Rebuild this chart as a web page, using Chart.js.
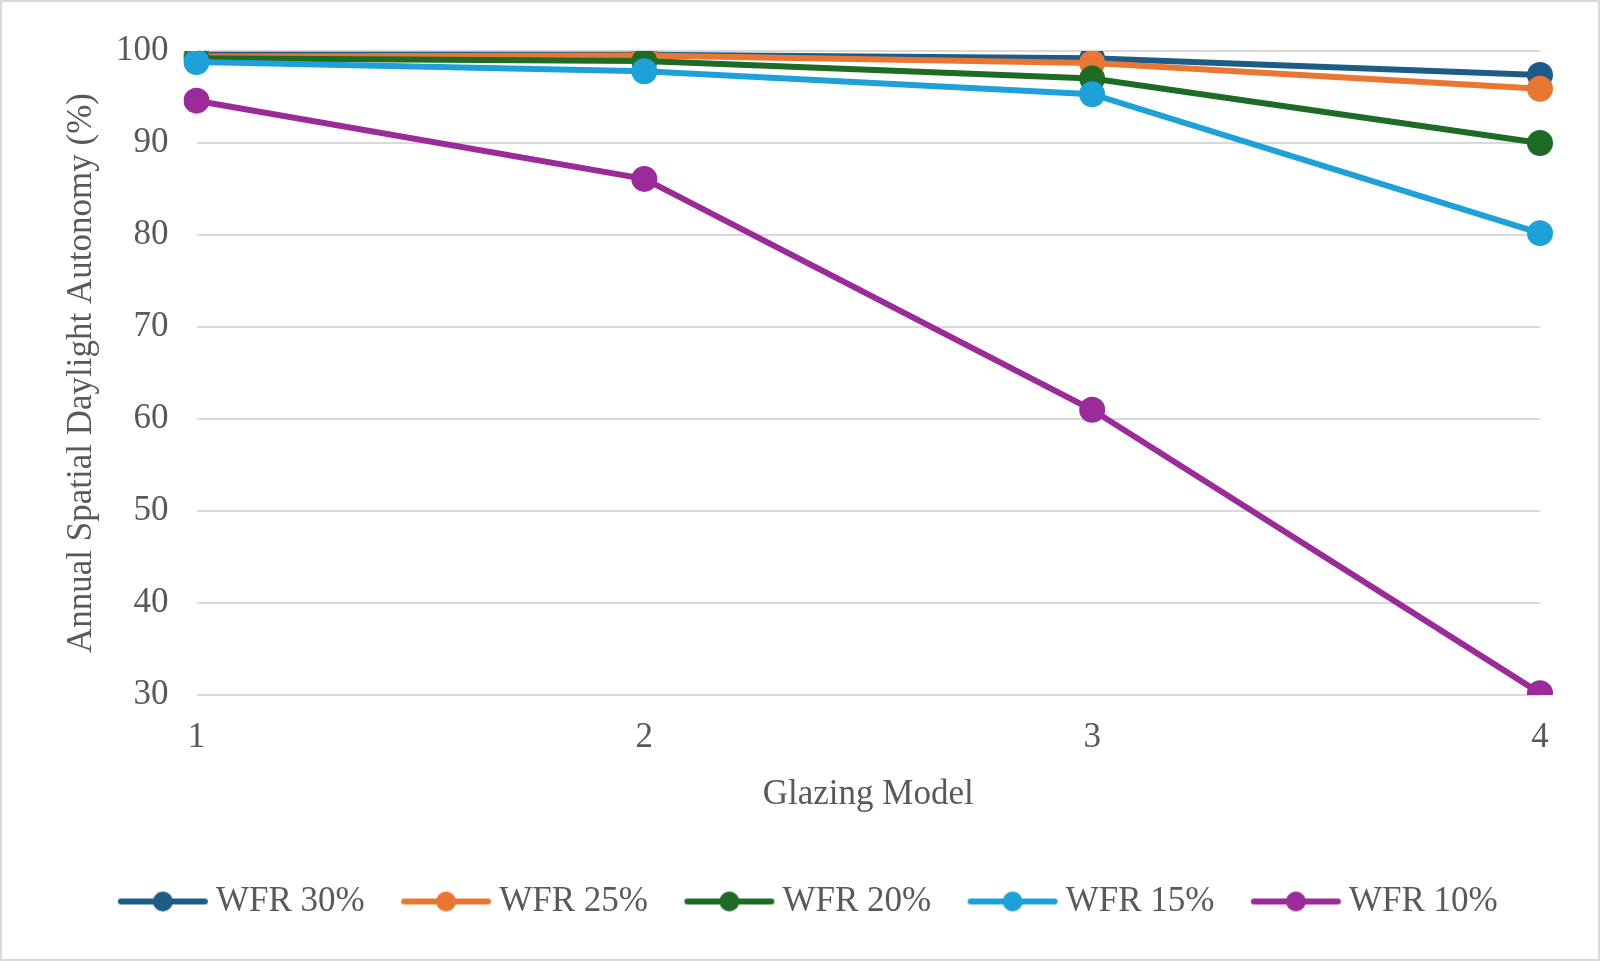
<!DOCTYPE html>
<html>
<head>
<meta charset="utf-8">
<script src="https://cdn.jsdelivr.net/npm/chart.js@4"></script>
<style>
  html, body { margin: 0; padding: 0; background: #fff; }
  .wrap { width: 1596px; height: 957px; border: 2px solid #d9d9d9; position: relative; }
</style>
</head>
<body>
<div class="wrap"><canvas id="sdaChart"></canvas></div>
<script>
// categories (glazing models)
const models = ['1', '2', '3', '4'];

// sDA values
const wfr30 = [99.6, 99.6, 99.2, 97.4];
const wfr25 = [99.4, 99.5, 98.7, 95.9];
const wfr20 = [99.2, 98.9, 97.0, 90.0];
const wfr15 = [98.8, 97.8, 95.3, 80.2];
const wfr10 = [94.6, 86.1, 61.0, 30.2];

const seriesNames = ['WFR 30%', 'WFR 25%', 'WFR 20%', 'WFR 15%', 'WFR 10%'];
const seriesColors = ['#1c5c86', '#ea7634', '#1d6b25', '#1ea0d8', '#9a2b98'];
const seriesData = [wfr30, wfr25, wfr20, wfr15, wfr10];

const yTicks = [30, 40, 50, 60, 70, 80, 90, 100];

const grey = '#595959';
const serif = "'Liberation Serif', 'Times New Roman', serif";

// legend marker: line with a dot in the middle
function legendMarker(color) {
    const c = document.createElement('canvas');
    c.width = 92; c.height = 26;
    const g = c.getContext('2d');
    g.strokeStyle = color;
    g.lineWidth = 6;
    g.lineCap = 'round';
    g.beginPath(); g.moveTo(4, 13); g.lineTo(88, 13); g.stroke();
    g.fillStyle = color;
    g.beginPath(); g.arc(46, 13, 10, 0, Math.PI * 2); g.fill();
    return c;
}
const markers = seriesColors.map(legendMarker);

// reversed so WFR 10% ends up painted on top, like the original
const datasets = seriesNames.map((name, i) => ({
    label: name,
    data: seriesData[i],
    borderColor: seriesColors[i],
    backgroundColor: seriesColors[i],
    borderWidth: 6,
    pointRadius: 13,
    pointHoverRadius: 13,
    pointBorderWidth: 0,
    tension: 0
})).reverse();

// the original legend sits a little right of centre
const nudgeLegend = {
    id: 'nudgeLegend',
    afterLayout(chart) {
        chart.legend.left += 14;
        chart.legend.right += 14;
    }
};

new Chart(document.getElementById('sdaChart'), {
    type: 'line',
    data: { labels: models, datasets: datasets },
    plugins: [nudgeLegend],
    options: {
        responsive: true,
        maintainAspectRatio: false,
        animation: false,
        layout: { padding: { top: 30, right: 58, left: 55, bottom: 30 } },
        plugins: {
            tooltip: { enabled: false },
            legend: {
                position: 'bottom',
                labels: {
                    color: grey,
                    font: { family: serif, size: 35 },
                    usePointStyle: true,
                    pointStyleWidth: 71,
                    padding: 46,
                    generateLabels: chart => seriesNames.map((name, i) => ({
                        text: name,
                        fontColor: grey,
                        pointStyle: markers[i],
                        lineWidth: 0,
                        strokeStyle: 'transparent',
                        fillStyle: 'transparent',
                        datasetIndex: seriesNames.length - 1 - i
                    }))
                }
            }
        },
        scales: {
            x: {
                offset: false,
                grid: { display: false },
                border: { display: false },
                ticks: { color: grey, font: { family: serif, size: 35 }, padding: 14 },
                title: { display: true, text: 'Glazing Model', color: grey, font: { family: serif, size: 35 }, padding: { top: 1, bottom: 22 } }
            },
            y: {
                min: 30,
                max: 100,
                afterBuildTicks: axis => { axis.ticks = yTicks.map(v => ({ value: v })); },
                grid: { color: '#d9d9d9', lineWidth: 2, drawTicks: false },
                border: { display: false },
                ticks: { color: grey, font: { family: serif, size: 35 }, padding: 28 },
                title: { display: true, text: 'Annual Spatial Daylight Autonomy (%)', color: grey, font: { family: serif, size: 35 }, padding: { top: 4, bottom: -15 } }
            }
        }
    }
});
</script>
</body>
</html>
